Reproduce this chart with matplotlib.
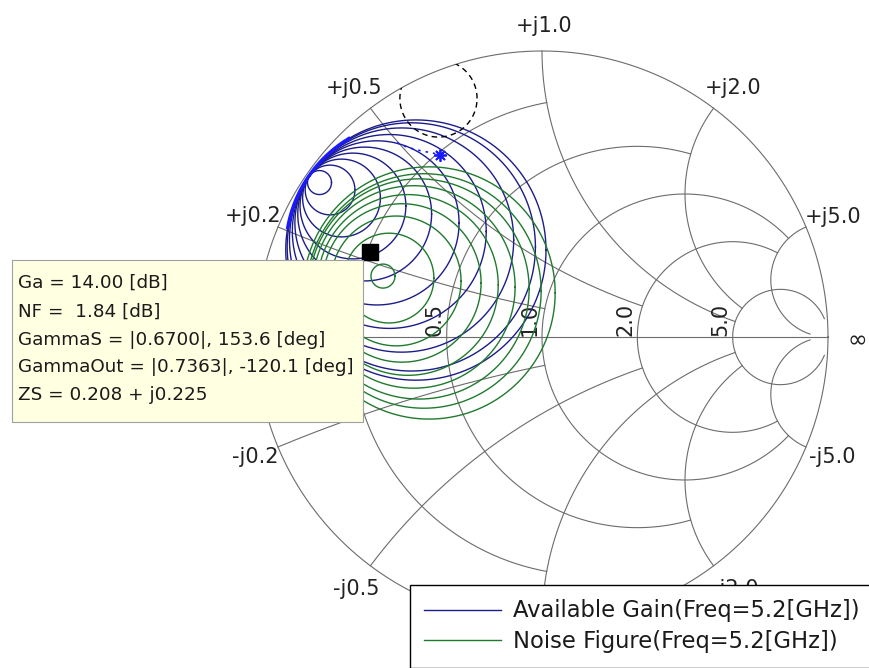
# Smith chart: available gain / noise figure circles at 5.2 GHz
import numpy as np
import matplotlib
matplotlib.use('Agg')
import matplotlib.pyplot as plt
from matplotlib.patches import Circle, Rectangle

# ---------------- data ----------------
# grid lines: constant r / x values and how far each one runs
grid_values = [0.2, 0.5, 1.0, 2.0, 5.0]
grid_extent = [1.0, 2.0, 5.0, 5.0, 30.0]

# available gain circles (reflection coefficient plane)
ga_center_re = [-0.778, -0.741, -0.701, -0.661, -0.620, -0.577, -0.534, -0.491, -0.457, -0.441]
ga_center_im = [0.540, 0.514, 0.486, 0.458, 0.430, 0.399, 0.369, 0.339, 0.315, 0.304]
ga_radius = [0.042, 0.087, 0.136, 0.185, 0.234, 0.287, 0.339, 0.392, 0.434, 0.455]

# noise figure circles
nf_center_re = [-0.556, -0.535, -0.510, -0.490, -0.469, -0.448, -0.430, -0.413, -0.395]
nf_center_im = [0.213, 0.206, 0.196, 0.189, 0.182, 0.175, 0.168, 0.161, 0.154]
nf_radius = [0.042, 0.157, 0.227, 0.277, 0.316, 0.354, 0.385, 0.410, 0.441]

# dashed circle, starred point and the dotted trail leading to it
stab_center = (-0.362, 0.834)
stab_radius = 0.135
star_point = (-0.357, 0.636)
trail_re = [-0.507, -0.472, -0.437, -0.402, -0.367]
trail_im = [0.679, 0.664, 0.654, 0.647, 0.640]

# data cursor
ga_db = 14.00
nf_db = 1.84
gs_mag, gs_ang = 0.6700, 153.6
gout_mag, gout_ang = 0.7363, -120.1
zs = 0.208 + 0.225j
freq_ghz = 5.2

# ---------------- layout ----------------
W, H = 869, 668
CX, CY, RAD = 542, 337, 286   # chart centre / radius in pixels


def p2g(x, y):
    # pixel position -> gamma plane
    return (x - CX) / RAD, (CY - y) / RAD


def gam(z):
    return (z - 1) / (z + 1)


fig = plt.figure(figsize=(W / 100, H / 100), dpi=100)
ax = fig.add_axes([0, 0, 1, 1])
xa, ya = p2g(0, H)
xb, yb = p2g(W, 0)
ax.set_xlim(xa, xb)
ax.set_ylim(ya, yb)
ax.axis('off')

# ===================== grid =====================
gc = '#6c6c6c'
glw = 0.8
t = np.linspace(-1, 1, 1201)
for v, e in zip(grid_values, grid_extent):
    g = gam(v + 1j * np.tan(t * np.arctan(e)))
    ax.plot(g.real, g.imag, color=gc, lw=glw, zorder=1)
    rr = np.tan(np.linspace(0, np.arctan(e), 600))
    for s in (1, -1):
        g = gam(rr + 1j * s * v)
        ax.plot(g.real, g.imag, color=gc, lw=glw, zorder=1)
th = np.linspace(0, 2 * np.pi, 1441)
ax.plot(np.cos(th), np.sin(th), color=gc, lw=glw, zorder=1)
ax.plot([-1, 1], [0, 0], color=gc, lw=glw, zorder=1)

lab = dict(fontsize=15, color='#222222', family='DejaVu Sans')
# resistance labels along the real axis
for v in grid_values:
    edge = (v - 1) / (v + 1)
    ax.text(edge - 6 / RAD, 1.5 / RAD, f'{v:.1f}', rotation=90,
            rotation_mode='anchor', ha='left', va='baseline', zorder=1, **lab)

# reactance labels round the rim (x px, baseline px, ha)
rim_pos = {
    (1, 0.2): (281, 222, 'right'), (1, 0.5): (382, 94, 'right'),
    (1, 1.0): (544, 32, 'center'), (1, 2.0): (705, 94, 'left'),
    (1, 5.0): (805, 223, 'left'),
    (-1, 0.2): (278, 463, 'right'), (-1, 0.5): (379, 595, 'right'),
    (-1, 2.0): (712, 595, 'left'), (-1, 5.0): (809, 463, 'left'),
}
for (s, v), (x, y, ha) in rim_pos.items():
    sign = '+' if s > 0 else '-'
    ax.text(*p2g(x, y), f'{sign}j{v:.1f}', ha=ha, va='baseline', zorder=1, **lab)
ax.text(*p2g(857, 340), '\u221e', ha='center', va='center', zorder=1,
        fontsize=17, color='#222222', family='DejaVu Sans')

# ===================== circles =====================
clip = Circle((0, 0), 1.0, transform=ax.transData)
phi = np.linspace(0, 2 * np.pi, 721)
ga_color = '#1c1c8a'
nf_color = '#1f7a2e'

ga_lines = []
for cx, cy, r in zip(ga_center_re, ga_center_im, ga_radius):
    ln, = ax.plot(cx + r * np.cos(phi), cy + r * np.sin(phi), color=ga_color, lw=1.0, zorder=2)
    ln.set_clip_path(clip)
    ga_lines.append(ln)

nf_lines = []
for cx, cy, r in zip(nf_center_re, nf_center_im, nf_radius):
    ln, = ax.plot(cx + r * np.cos(phi), cy + r * np.sin(phi), color=nf_color, lw=1.0, zorder=2)
    ln.set_clip_path(clip)
    nf_lines.append(ln)

# outer Ga circles crowd together on the upper left
a = np.radians(np.linspace(121, 170, 200))
ax.plot(ga_center_re[-1] + ga_radius[-1] * np.cos(a), ga_center_im[-1] + ga_radius[-1] * np.sin(a),
        color='#1a1aff', lw=2.4, zorder=2)

ln, = ax.plot(stab_center[0] + stab_radius * np.cos(phi), stab_center[1] + stab_radius * np.sin(phi),
              color='black', lw=1.0, dashes=(4, 3), zorder=2)
ln.set_clip_path(clip)

ax.plot(trail_re, trail_im, color='#1a1aff', lw=1.2, dashes=(1.5, 3), zorder=3)
ax.plot(*star_point, ls='none', marker=(8, 2, 0), ms=9, mec='#1a1aff', mew=1.3, zorder=3)

gs = gs_mag * np.exp(1j * np.radians(gs_ang))
ax.plot(gs.real, gs.imag, 's', color='black', ms=11.5, zorder=4)

# ===================== data tip =====================
bx0, by0 = p2g(12, 422)
ax.add_patch(Rectangle((bx0, by0), (363 - 12) / RAD, (422 - 260) / RAD,
                       facecolor='#ffffe1', edgecolor='#a0a0a0', lw=0.8, zorder=5))
tip = [
    f'Ga = {ga_db:.2f} [dB]',
    f'NF = {nf_db:5.2f} [dB]',
    f'GammaS = |{gs_mag:.4f}|, {gs_ang:.1f} [deg]',
    f'GammaOut = |{gout_mag:.4f}|, {gout_ang:.1f} [deg]',
    f'ZS = {zs.real:.3f} + j{zs.imag:.3f}',
]
for line, base in zip(tip, [288, 317, 345, 372, 400]):
    ax.text(*p2g(18, base), line, ha='left', va='baseline', fontsize=13.2,
            color='#1a1a1a', family='DejaVu Sans', zorder=6)

# ===================== legend =====================
leg = ax.legend([ga_lines[0], nf_lines[0]],
                [f'Available Gain(Freq={freq_ghz}[GHz])', f'Noise Figure(Freq={freq_ghz}[GHz])'],
                loc='upper left', bbox_to_anchor=(410 / W, 1 - 585 / H), bbox_transform=fig.transFigure,
                borderaxespad=0, fancybox=False, framealpha=1, edgecolor='black',
                fontsize=16.3, handlelength=3.4, handletextpad=0.49, borderpad=0.64,
                labelspacing=0.34, labelcolor='#1a1a1a')
leg.get_frame().set_linewidth(1.0)
leg.set_zorder(7)

fig.savefig('out.png', dpi=100)
